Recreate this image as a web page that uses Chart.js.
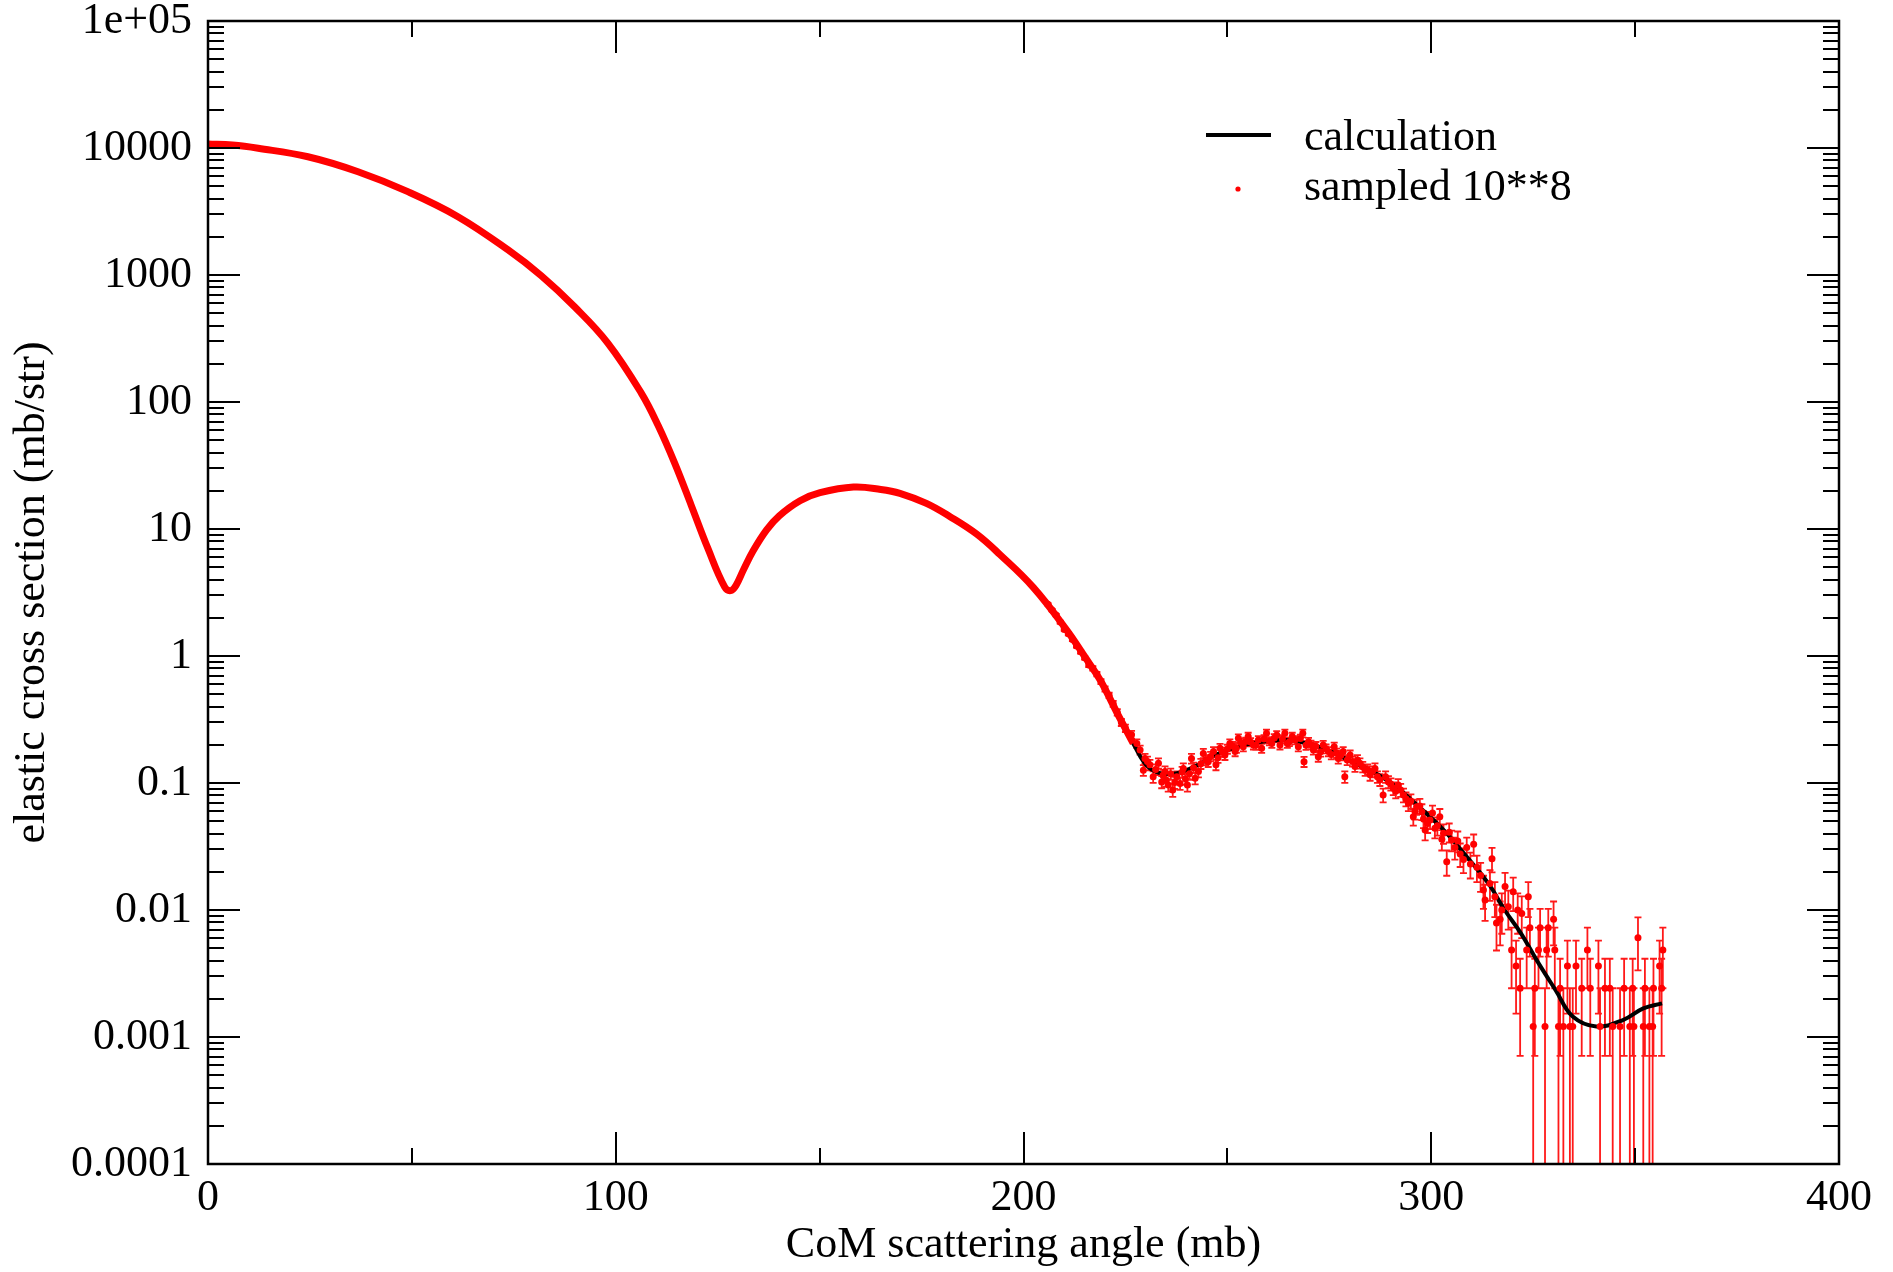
<!DOCTYPE html>
<html>
<head>
<meta charset="utf-8">
<script src="https://cdn.jsdelivr.net/npm/chart.js@4.4.1/dist/chart.umd.min.js"></script>
<style>
  html, body { margin: 0; padding: 0; background: #fff; }
</style>
</head>
<body>
<canvas id="xsChart" width="1893" height="1272"></canvas>
<script>
// calculated elastic cross section (angle, mb/str)
const calcAngle = [0, 6, 12.3, 24.5, 36.8, 49, 61.3, 73.6, 81.7, 89.9, 98.1, 106.3, 110.4, 114.5, 118.5, 122.6, 126.7, 128.2,
  129.5, 131.3, 133.7, 137, 140.1, 145.2, 150.1, 158.3, 165, 169.7, 176.2, 182, 188.5, 194.2, 202.4, 210.6, 215, 218.8, 223, 226.9,
  231, 236.5, 242, 248, 256, 264, 268, 273, 278, 289, 297, 303, 308, 314, 318, 322, 326, 330.5, 334.7, 340.5,
  347, 352, 356.6];
const calcValue = [10740, 10540, 9950, 8530, 6500, 4530, 2880, 1574, 989, 562, 290, 117, 65.2, 32.7, 15.4, 7.03, 3.5, 3.27,
  3.6, 4.75, 6.73, 9.84, 12.7, 16.7, 19.3, 21.4, 20.5, 19.1, 15.9, 12.5, 9.12, 6.3, 3.47, 1.6, 0.99, 0.647, 0.354, 0.205,
  0.13, 0.118, 0.135, 0.171, 0.205, 0.218, 0.21, 0.19, 0.161, 0.106, 0.065, 0.0427, 0.0279, 0.0162, 0.01, 0.00655, 0.00396, 0.00234, 0.00145, 0.00121,
  0.00136, 0.00168, 0.00184];

// sampled points where they sit on the curve (error bars hidden under the markers)
const sampAngle = [0, 6, 12.3, 24.5, 36.8, 49, 61.3, 73.6, 81.7, 89.9, 98.1, 106.3, 110.4, 114.5, 118.5, 122.6, 126.7, 128.2,
  129.5, 131.3, 133.7, 137, 140.1, 145.2, 150.1, 158.3, 165, 169.7, 176.2, 182, 188.5, 194.2, 202.4, 210.6, 215, 218.8, 223, 226.9];
const sampValue = [10740, 10540, 9950, 8530, 6500, 4530, 2880, 1574, 989, 562, 290, 117, 65.2, 32.7, 15.4, 7.03, 3.5, 3.27,
  3.6, 4.75, 6.73, 9.84, 12.7, 16.7, 19.3, 21.4, 20.5, 19.1, 15.9, 12.5, 9.12, 6.3, 3.47, 1.6, 0.99, 0.647, 0.354, 0.205];

// sampled points in the noisy part, with their errors
const tailAngle = [206, 207, 208, 209, 210, 211, 212, 213, 214, 215, 216, 217, 218, 219, 220, 221, 222, 223, 224, 225,
  226.5, 227.8, 228.6, 229.4, 229.8, 231, 231.8, 233.1, 233.9, 234.7, 235.5, 236.6, 237.6, 238.4, 239.2, 240.2, 241.2, 242.1, 242.9, 244.1,
  245.3, 246.6, 247.2, 248.2, 249.4, 250.6, 251.9, 252.7, 253.9, 255.1, 256.4, 257.6, 258.4, 259.6, 260.9, 262.1, 262.9, 264.1, 265.2, 266.6,
  267.4, 268.5, 268.8, 269.9, 271.1, 272.3, 273.5, 274.8, 276.2, 277.2, 278.4, 278.8, 280.1, 281.3, 282.5, 283.8, 285, 286.2, 287.4, 288.2,
  289.5, 290.7, 291.9, 293.2, 294.4, 295.6, 296.4, 297.7, 298.5, 299.7, 300.9, 302.1, 303, 303.8, 305, 305.8, 306.5, 307.1, 307.9, 308.7,
  309.6, 310.4, 311.2, 312.1, 312.8, 313.2, 314.4, 314.9, 315.6, 316, 316.9, 317.3, 318.1, 318.9, 319.7, 320.1, 320.8, 321.2, 321.8, 322.2,
  323.4, 323.8, 324.2, 325, 325.4, 326.3, 326.7, 327.9, 328.3, 328.7, 330, 330.3, 331.2, 331.6, 332.4, 333.4, 334, 334.7, 335.5, 336.9,
  338.3, 339, 341, 341.4, 342.6, 343.8, 344.5, 346.3, 347.3, 348.7, 349.4, 349.7, 350.7, 352, 352.4, 353.5, 354.3, 354.5, 356, 356.5,
  356.8,
  230.4, 232.4, 234.2, 235, 236.1, 237.1, 238.9, 239.7, 240.7, 241.7, 243.5, 244.7, 245.9, 247.7, 248.8, 250, 251.3, 252.2, 253.3, 254.5,
  255.7, 257, 259, 260.3, 261.5, 263.5, 264.7, 265.9, 267.9, 269.3, 270.5, 271.7, 272.9, 274.2, 275.5, 276.8, 277.8, 279.4, 280.7, 281.9,
  283.2, 284.4, 285.6, 286.8, 288.8, 290.1, 291.3, 292.5, 293.8, 295, 296, 297.2, 298.1, 299.1, 300.3, 301.5, 302.6, 304.4];
const tailValue = [2.55, 2.3, 2.1, 1.85, 1.62, 1.5, 1.35, 1.2, 1.08, 0.97, 0.85, 0.8, 0.72, 0.63, 0.55, 0.49, 0.42, 0.36, 0.3, 0.27,
  0.24, 0.205, 0.182, 0.126, 0.156, 0.139, 0.112, 0.143, 0.102, 0.123, 0.0964, 0.0881, 0.112, 0.0993, 0.13, 0.0964, 0.156, 0.109, 0.123, 0.171,
  0.147, 0.177, 0.139, 0.188, 0.166, 0.205, 0.177, 0.225, 0.193, 0.232, 0.199, 0.218, 0.188, 0.246, 0.205, 0.239, 0.199, 0.246, 0.211, 0.218,
  0.193, 0.246, 0.147, 0.211, 0.182, 0.161, 0.199, 0.177, 0.193, 0.156, 0.177, 0.112, 0.166, 0.135, 0.143, 0.126, 0.116, 0.13, 0.106, 0.0804,
  0.102, 0.0908, 0.0964, 0.0804, 0.0692, 0.0543, 0.0651, 0.0595, 0.0426, 0.0512, 0.044, 0.0543, 0.0402, 0.024, 0.0356, 0.031, 0.035, 0.0276, 0.025, 0.031,
  0.023, 0.033, 0.0217, 0.0187, 0.0144, 0.012, 0.0162, 0.0253, 0.0127, 0.0079, 0.00847, 0.01, 0.0153, 0.0106, 0.00484, 0.0139, 0.00363, 0.01, 0.00242, 0.0094,
  0.00484, 0.0127, 0.00726, 0.00121, 0.00242, 0.00484, 0.00726, 0.00121, 0.00484, 0.00726, 0.00847, 0.00484, 0.00121, 0.00242, 0.00121, 0.00363, 0.00121, 0.00121, 0.00363, 0.00242,
  0.00484, 0.00242, 0.00363, 0.00121, 0.00242, 0.00242, 0.00121, 0.00121, 0.00242, 0.00121, 0.00242, 0.00121, 0.00605, 0.00121, 0.00242, 0.00121, 0.00121, 0.00242, 0.00363, 0.00242,
  0.00484,
  0.148, 0.128, 0.115, 0.105, 0.118, 0.101, 0.122, 0.108, 0.118, 0.132, 0.142, 0.152, 0.162, 0.158, 0.175, 0.185, 0.195, 0.188, 0.208, 0.212,
  0.21, 0.198, 0.222, 0.214, 0.226, 0.222, 0.205, 0.232, 0.224, 0.198, 0.2, 0.195, 0.176, 0.186, 0.168, 0.172, 0.165, 0.152, 0.148, 0.152,
  0.134, 0.128, 0.123, 0.112, 0.112, 0.098, 0.086, 0.088, 0.075, 0.072, 0.06, 0.066, 0.052, 0.048, 0.058, 0.046, 0.036, 0.041];
const tailErr = [0.055, 0.053, 0.05, 0.047, 0.044, 0.043, 0.04, 0.038, 0.036, 0.034, 0.032, 0.031, 0.03, 0.028, 0.026, 0.024, 0.023, 0.021, 0.019, 0.018,
  0.017, 0.0157, 0.0148, 0.0123, 0.0137, 0.013, 0.0116, 0.0132, 0.0111, 0.0122, 0.0108, 0.0103, 0.0116, 0.011, 0.0125, 0.0108, 0.0137, 0.0115, 0.0122, 0.0144,
  0.0133, 0.0146, 0.013, 0.0151, 0.0142, 0.0157, 0.0146, 0.0165, 0.0153, 0.0168, 0.0155, 0.0162, 0.0151, 0.0173, 0.0157, 0.017, 0.0155, 0.0173, 0.016, 0.0162,
  0.0153, 0.0173, 0.0133, 0.016, 0.0148, 0.014, 0.0155, 0.0146, 0.0153, 0.0137, 0.0146, 0.0116, 0.0142, 0.0128, 0.0132, 0.0123, 0.0118, 0.0125, 0.0113, 0.0099,
  0.0111, 0.0105, 0.0108, 0.0099, 0.0092, 0.0081, 0.0089, 0.0085, 0.0072, 0.0079, 0.0073, 0.0081, 0.007, 0.0054, 0.0066, 0.0061, 0.0065, 0.0058, 0.0055, 0.0061,
  0.0053, 0.0063, 0.0051, 0.0048, 0.0042, 0.0038, 0.0044, 0.0055, 0.0039, 0.0031, 0.0032, 0.0035, 0.0043, 0.0036, 0.00242, 0.0041, 0.0021, 0.0035, 0.00171, 0.0034,
  0.00242, 0.0039, 0.00296, 0.00121, 0.00171, 0.00242, 0.00296, 0.00121, 0.00242, 0.00296, 0.0032, 0.00242, 0.00121, 0.00171, 0.00121, 0.0021, 0.00121, 0.00121, 0.0021, 0.00171,
  0.00242, 0.00171, 0.0021, 0.00121, 0.00171, 0.00171, 0.00121, 0.00121, 0.00171, 0.00121, 0.00171, 0.00121, 0.0027, 0.00121, 0.00171, 0.00121, 0.00121, 0.00171, 0.0021, 0.00171,
  0.00242,
  0.0134, 0.0124, 0.0118, 0.0113, 0.0119, 0.011, 0.0121, 0.0114, 0.0119, 0.0126, 0.0131, 0.0135, 0.014, 0.0138, 0.0145, 0.015, 0.0153, 0.0151, 0.0158, 0.016,
  0.0159, 0.0155, 0.0164, 0.016, 0.0165, 0.0164, 0.0157, 0.0168, 0.0165, 0.0155, 0.0155, 0.0153, 0.0146, 0.015, 0.0143, 0.0144, 0.0141, 0.0135, 0.0134, 0.0135,
  0.0127, 0.0124, 0.0122, 0.0116, 0.0116, 0.0109, 0.0102, 0.0103, 0.0095, 0.0093, 0.0085, 0.0089, 0.0079, 0.0076, 0.0084, 0.0075, 0.0066, 0.007];

const xTicks = [0, 100, 200, 300, 400];
const yTicks = [1e-4, 1e-3, 0.01, 0.1, 1, 10, 100, 1000, 1e4, 1e5];
const yLabels = ['0.0001', '0.001', '0.01', '0.1', '1', '10', '100', '1000', '10000', '1e+05'];

const FONT = '"Liberation Serif", "Times New Roman", serif';
Chart.defaults.font.family = FONT;
Chart.defaults.color = '#000';

function pairs(xs, ys) {
  return xs.map((x, i) => ({x: x, y: ys[i]}));
}

// frame with inward ticks on all four sides
const framePlugin = {
  id: 'frame',
  afterDraw(chart) {
    const {ctx, chartArea: a, scales: {x, y}} = chart;
    ctx.save();
    ctx.strokeStyle = '#000';
    ctx.lineWidth = 2;
    ctx.beginPath();
    for (let v = 0; v <= 400; v += 50) {
      const px = Math.round(x.getPixelForValue(v));
      const len = v % 100 === 0 ? 32 : 16;
      ctx.moveTo(px, a.bottom); ctx.lineTo(px, a.bottom - len);
      ctx.moveTo(px, a.top); ctx.lineTo(px, a.top + len);
    }
    for (let e = -4; e <= 5; e++) {
      for (let m = 1; m <= 9; m++) {
        if (e === 5 && m > 1) break;
        const py = Math.round(y.getPixelForValue(m * Math.pow(10, e)));
        const len = m === 1 ? 32 : 16;
        ctx.moveTo(a.left, py); ctx.lineTo(a.left + len, py);
        ctx.moveTo(a.right, py); ctx.lineTo(a.right - len, py);
      }
    }
    ctx.stroke();
    ctx.lineWidth = 2.5;
    ctx.strokeRect(a.left, a.top, a.right - a.left, a.bottom - a.top);
    ctx.restore();
  }
};

// vertical error bars for the tail points
const errorBarPlugin = {
  id: 'errorBars',
  beforeDatasetsDraw(chart) {
    const {ctx, chartArea: a, scales: {x, y}} = chart;
    ctx.save();
    ctx.beginPath();
    ctx.rect(a.left, a.top, a.right - a.left, a.bottom - a.top);
    ctx.clip();
    ctx.strokeStyle = 'rgba(255,0,0,0.9)';
    ctx.lineWidth = 1.8;
    ctx.beginPath();
    tailAngle.forEach((ang, i) => {
      const px = x.getPixelForValue(ang);
      const hi = tailValue[i] + tailErr[i];
      const lo = tailValue[i] - tailErr[i];
      const pyHi = y.getPixelForValue(hi);
      const pyLo = lo > 1e-6 ? y.getPixelForValue(lo) : a.bottom + 5;
      ctx.moveTo(px, pyHi); ctx.lineTo(px, pyLo);
      ctx.moveTo(px - 3.5, pyHi); ctx.lineTo(px + 3.5, pyHi);
      if (lo > 1e-6) { ctx.moveTo(px - 3.5, pyLo); ctx.lineTo(px + 3.5, pyLo); }
    });
    ctx.stroke();
    ctx.restore();
  }
};

// legend inside the plot, top right
const legendPlugin = {
  id: 'innerLegend',
  afterDraw(chart) {
    const {ctx, chartArea: a} = chart;
    const x0 = a.left + 998;
    ctx.save();
    ctx.strokeStyle = '#000';
    ctx.lineWidth = 4;
    ctx.beginPath();
    ctx.moveTo(x0, a.top + 114); ctx.lineTo(x0 + 65, a.top + 114);
    ctx.stroke();
    ctx.fillStyle = 'red';
    ctx.beginPath();
    ctx.arc(x0 + 32, a.top + 168, 2.6, 0, Math.PI * 2);
    ctx.fill();
    ctx.fillStyle = '#000';
    ctx.font = '44px ' + FONT;
    ctx.textBaseline = 'alphabetic';
    ctx.textAlign = 'left';
    ctx.fillText(chart.data.datasets[2].label, x0 + 98, a.top + 129);
    ctx.fillText(chart.data.datasets[0].label, x0 + 98, a.top + 179);
    ctx.restore();
  }
};

const config = {
  type: 'scatter',
  data: {
    datasets: [
      {
        label: 'sampled 10**8',
        data: pairs(sampAngle, sampValue),
        showLine: true,
        borderColor: '#ff0000',
        borderWidth: 7,
        pointRadius: 0,
        tension: 0.4
      },
      {
        label: 'sampled 10**8 (noisy)',
        data: pairs(tailAngle, tailValue),
        showLine: false,
        pointRadius: 3.5,
        pointBackgroundColor: '#ff0000',
        pointBorderWidth: 0
      },
      {
        label: 'calculation',
        data: pairs(calcAngle, calcValue),
        showLine: true,
        borderColor: '#000',
        borderWidth: 4,
        pointRadius: 0,
        tension: 0.4
      }
    ]
  },
  options: {
    responsive: false,
    animation: false,
    layout: {padding: {top: 21, right: 54, left: 0, bottom: 0}},
    plugins: {legend: {display: false}, tooltip: {enabled: false}},
    scales: {
      x: {
        type: 'linear',
        min: 0,
        max: 400,
        afterBuildTicks: s => { s.ticks = xTicks.map(v => ({value: v})); },
        afterFit: s => { s.height = 108; s.paddingLeft = 0; s.paddingRight = 0; },
        grid: {display: false, drawTicks: false},
        border: {display: false},
        ticks: {font: {size: 44}, padding: 8, maxRotation: 0, color: '#000'},
        title: {display: true, text: 'CoM scattering angle (mb)', font: {size: 44}, padding: {top: 0, bottom: 0}, color: '#000'}
      },
      y: {
        type: 'logarithmic',
        min: 1e-4,
        max: 1e5,
        afterBuildTicks: s => { s.ticks = yTicks.map(v => ({value: v})); },
        afterFit: s => { s.width = 208; s.paddingTop = 0; s.paddingBottom = 0; },
        grid: {display: false, drawTicks: false},
        border: {display: false},
        ticks: {
          font: {size: 44},
          padding: 16,
          color: '#000',
          callback: (v, i) => yLabels[i]
        },
        title: {display: true, text: 'elastic cross section (mb/str)', font: {size: 44}, padding: {top: 6, bottom: 0}, color: '#000'}
      }
    }
  },
  plugins: [errorBarPlugin, framePlugin, legendPlugin]
};

window.onload = function() {
  const ctx = document.getElementById('xsChart').getContext('2d');
  window.xsChart = new Chart(ctx, config);
};
</script>
</body>
</html>
